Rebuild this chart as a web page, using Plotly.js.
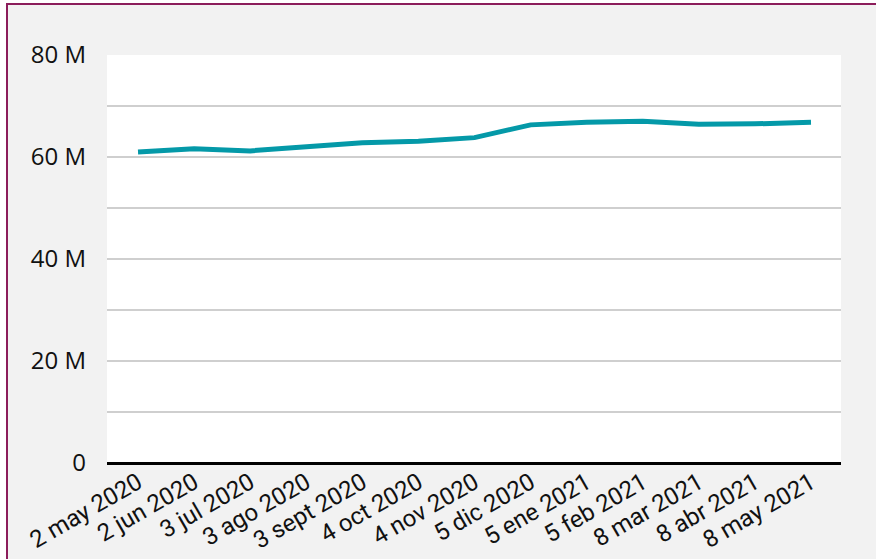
<!DOCTYPE html>
<html>
<head>
<meta charset="utf-8">
<script src="https://cdn.plot.ly/plotly-3.0.1.min.js"></script>
<style>
  html, body { margin: 0; padding: 0; background: #ffffff; }
  #wrap { position: relative; width: 876px; height: 559px; overflow: hidden; }
  #chart { position: absolute; left: 0; top: 0; width: 876px; height: 559px; }
  #frame { position: absolute; left: 0; top: 0; width: 876px; height: 559px; pointer-events: none; }
  #edgeL { position: absolute; left: 0; top: 0; width: 6px; height: 559px; background: #ffffff; }
  #edgeT { position: absolute; left: 0; top: 0; width: 876px; height: 3px; background: #ffffff; }
  #lineL { position: absolute; left: 6px; top: 3px; width: 2px; height: 556px; background: #8C1D5B; }
  #lineT { position: absolute; left: 6px; top: 3px; width: 870px; height: 2px; background: #8C1D5B; }
</style>
</head>
<body>
<div id="wrap">
  <div id="chart"></div>
  <div id="frame"><div id="edgeL"></div><div id="edgeT"></div><div id="lineL"></div><div id="lineT"></div></div>
</div>
<script>
const categories = ["2 may 2020", "2 jun 2020", "3 jul 2020", "3 ago 2020", "3 sept 2020", "4 oct 2020",
                    "4 nov 2020", "5 dic 2020", "5 ene 2021", "5 feb 2021", "8 mar 2021", "8 abr 2021", "8 may 2021"];
const values = [61.0e6, 61.6e6, 61.2e6, 62.1e6, 62.8e6, 63.1e6, 63.8e6, 66.3e6, 66.8e6, 67.0e6, 66.4e6, 66.5e6, 66.8e6];
const yTickVals = [0, 10e6, 20e6, 30e6, 40e6, 50e6, 60e6, 70e6, 80e6];
const yTickText = ["0", "", "20 M", "", "40 M", "", "60 M", "", "80 M"];

const trace = {
  type: "scatter",
  mode: "lines",
  x: categories,
  y: values,
  line: { color: "#0499A8", width: 5 },
  hoverinfo: "x+y"
};

const layout = {
  width: 876,
  height: 559,
  paper_bgcolor: "#f2f2f2",
  plot_bgcolor: "#ffffff",
  margin: { l: 107, r: 35, t: 55, b: 96 },
  showlegend: false,
  font: { family: "Roboto, 'DejaVu Sans', sans-serif", size: 22, color: "#111111" },
  xaxis: {
    type: "category",
    range: [-0.553, 12.535],
    tickangle: -30,
    showgrid: false,
    zeroline: false,
    showline: false,
    ticks: "",
    tickfont: { family: "Roboto, sans-serif", size: 24, color: "#111111" },
    automargin: false
  },
  yaxis: {
    range: [0, 80e6],
    tickmode: "array",
    tickvals: yTickVals,
    ticktext: yTickText,
    showgrid: true,
    gridcolor: "#cfcfcf",
    gridwidth: 2,
    zeroline: true,
    zerolinecolor: "#000000",
    zerolinewidth: 3,
    showline: false,
    ticks: "",
    ticklabelstandoff: 20,
    tickfont: { family: "'Open Sans', sans-serif", size: 24, color: "#111111" },
    automargin: false
  }
};

Plotly.newPlot("chart", [trace], layout, { displayModeBar: false, staticPlot: true });
</script>
</body>
</html>
